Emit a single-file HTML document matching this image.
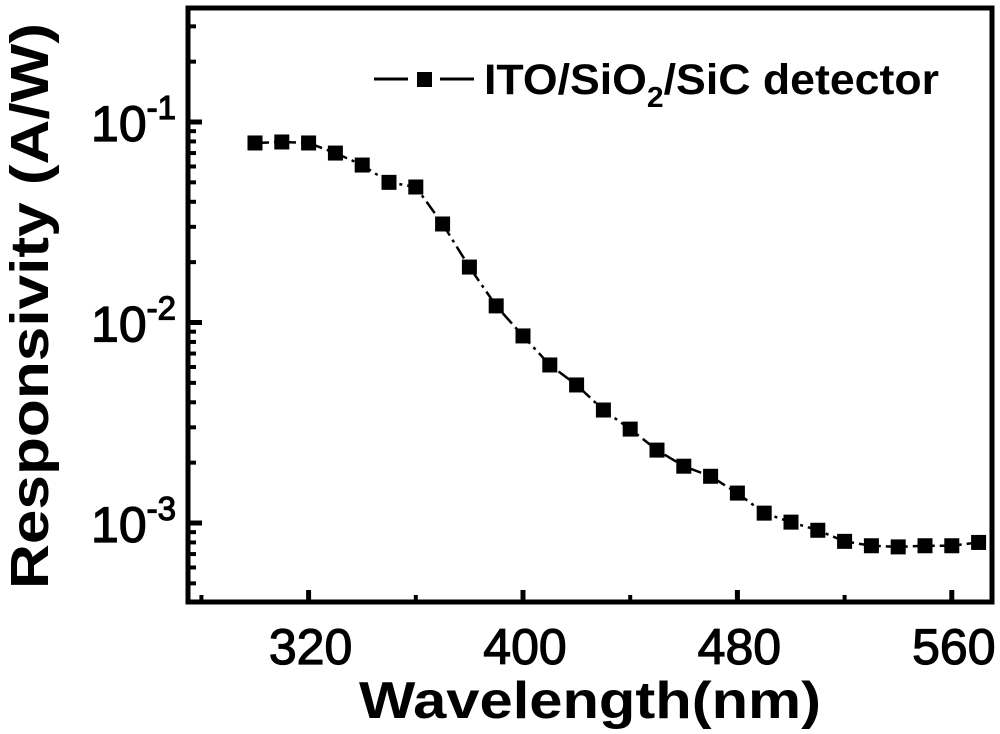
<!DOCTYPE html>
<html><head><meta charset="utf-8"><style>
body{margin:0;background:#fff}
svg{display:block}
text{font-family:"Liberation Sans",Arial,sans-serif;font-weight:bold;fill:#000}
</style></head><body>
<svg id="chart" width="1000" height="734" viewBox="0 0 1000 734" xmlns="http://www.w3.org/2000/svg">
<g id="minor"></g>
<g id="major"></g>
<rect x="188" y="8" width="804" height="594" fill="none" stroke="#000" stroke-width="5"/>
<g id="xlabels"></g>
<g id="ylabels"></g>
<path id="line" fill="none" stroke="#000" stroke-width="2.5" stroke-dasharray="14,5,3,5"/>
<g id="points"></g>
<g>
<line x1="374" y1="79" x2="408" y2="79" stroke="#000" stroke-width="3"/>
<rect x="417" y="72" width="15" height="15" fill="#000"/>
<line x1="440" y1="79" x2="474" y2="79" stroke="#000" stroke-width="3"/>
<text x="484" y="94" font-size="43" textLength="455" lengthAdjust="spacingAndGlyphs">ITO/SiO<tspan font-size="29" dy="13">2</tspan><tspan dy="-13">/SiC detector</tspan></text>
</g>
<text x="590" y="718" font-size="52" text-anchor="middle" textLength="462" lengthAdjust="spacingAndGlyphs">Wavelength(nm)</text>
<text transform="translate(48,306) rotate(-90)" font-size="54" text-anchor="middle" textLength="566" lengthAdjust="spacingAndGlyphs">Responsivity (A/W)</text>
</svg>
<script>
const wavelengths=[300,310,320,330,340,350,360,370,380,390,400,410,420,430,440,450,460,470,480,490,500,510,520,530,540,550,560,570];
const responsivity=[0.0786,0.0795,0.0786,0.070,0.061,0.050,0.0474,0.031,0.0189,0.0121,0.00857,0.00614,0.00488,0.00366,0.00294,0.00231,0.00192,0.00171,0.00141,0.00112,0.00101,0.00092,0.00081,0.00077,0.00076,0.00077,0.00077,0.00080];
const xTicks=[320,400,480,560];
const xMinorTicks=[280,360,440,520];
const yTickExps=[-1,-2,-3];
const NS="http://www.w3.org/2000/svg";
function xs(w){return 255+(w-300)*2.68;}
function ys(v){return 122-(Math.log10(v)+1)*200.5;}
function mk(tag,attrs,parent){const e=document.createElementNS(NS,tag);for(const k in attrs)e.setAttribute(k,attrs[k]);parent.appendChild(e);return e;}
const major=document.getElementById('major'),minor=document.getElementById('minor');
const xl=document.getElementById('xlabels'),yl=document.getElementById('ylabels');
xTicks.forEach(t=>{
 const l=mk('line',{x1:xs(t),x2:xs(t),y1:602,y2:590,stroke:'#000','stroke-width':5},major);
 
 
 const tx=mk('text',{x:xs(t)+2,y:664,'font-size':50,'text-anchor':'middle'},xl);
 tx.style.fontWeight='normal';
 tx.style.stroke='#000';tx.style.strokeWidth='1.2';
 tx.textContent=t;
 
 
});
xMinorTicks.forEach(t=>{
 const l=mk('line',{x1:xs(t),x2:xs(t),y1:602,y2:595,stroke:'#000','stroke-width':4},minor);
 
 
});
yTickExps.forEach(e=>{
 const y=ys(Math.pow(10,e));
 const l=mk('line',{x1:188,x2:202,y1:y,y2:y,stroke:'#000','stroke-width':5},major);
 
 
 const tx=mk('text',{x:176,y:y+19,'font-size':50,'text-anchor':'end'},yl);
 tx.style.fontWeight='normal';
 tx.style.stroke='#000';tx.style.strokeWidth='1.2';
 tx.innerHTML='10<tspan font-size="33" dy="-22">'+e+'</tspan>';
 
 
});
for(let e=-4;e<=-1;e++){for(let m=2;m<=9;m++){const y=ys(m*Math.pow(10,e));if(y<10||y>600)continue;
 const l=mk('line',{x1:188,x2:196,y1:y,y2:y,stroke:'#000','stroke-width':4},minor);
 
 }}
document.getElementById('line').setAttribute('d',wavelengths.map((w,i)=>(i?'L':'M')+xs(w)+','+ys(responsivity[i])).join(' '));
const pts=document.getElementById('points');
wavelengths.forEach((w,i)=>{
 const r=mk('rect',{x:xs(w)-7.5,y:ys(responsivity[i])-7.5,width:15,height:15,fill:'#000'},pts);
 
 
});
</script>
</body></html>
